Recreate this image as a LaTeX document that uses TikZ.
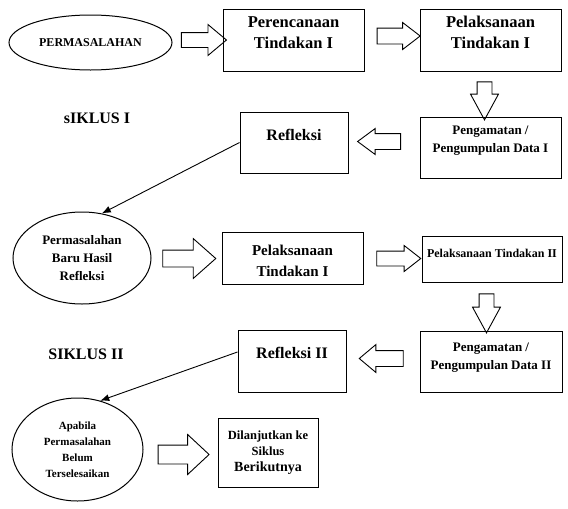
\documentclass[tikz,border=0pt]{standalone}
\usepackage{fontspec}
\setmainfont{Liberation Serif}
\usetikzlibrary{shapes.geometric,shapes.arrows,arrows.meta}
\tikzset{
  kotak/.style={draw, rectangle, line width=1pt, inner sep=0pt},
  elips/.style={draw, ellipse, line width=1pt, inner sep=0pt, align=center},
  teks/.style={align=center, inner sep=0pt},
  panah/.style n args={4}{draw, single arrow, line width=0.9pt, inner xsep=0pt, minimum width=0pt,
    minimum height=#1, single arrow head extend=#2, inner ysep=#3, single arrow tip angle=#4},
  garis/.style={line width=0.9pt, -{Latex[length=9pt,width=7pt]}}
}
\begin{document}
\begin{tikzpicture}[x=1pt, y=-1pt]
\useasboundingbox (0,0) rectangle (568,509);
\node[elips, minimum width=163pt, minimum height=55pt, font=\bfseries\fontsize{12}{14}\selectfont] (masalah1) at (90.5,42.5) {PERMASALAHAN};
\node[panah={45pt}{8pt}{7pt}{80}] (pa1) at (199.5,40) {};
\node[kotak, minimum width=141pt, minimum height=62pt] (rencana) at (293.5,40) {};
\node[teks, font=\bfseries\fontsize{16.5}{21}\selectfont] (rencanateks) at (293.5,32.5) {Perencanaan\\Tindakan I};
\node[panah={43pt}{5.5pt}{7.5pt}{75}] (pa2) at (393.5,36) {};
\node[kotak, minimum width=141pt, minimum height=62pt] (laksana1) at (490.5,40) {};
\node[teks, font=\bfseries\fontsize{16.5}{21}\selectfont] (laksana1teks) at (490.5,32.5) {Pelaksanaan\\Tindakan I};
\node[panah={38pt}{6.5pt}{7pt}{57}, rotate=-90] (pa3) at (484.5,94) {};
\node[kotak, minimum width=141pt, minimum height=61pt] (amat1) at (490.5,147.5) {};
\node[teks, font=\bfseries\fontsize{13}{18}\selectfont] (amat1teks) at (490.5,140.5) {Pengamatan /\\Pengumpulan Data I};
\node[panah={43pt}{5pt}{7.5pt}{73}, rotate=180] (pa4) at (384.5,141.5) {};
\node[kotak, minimum width=108pt, minimum height=61pt] (refleksi1) at (294,142.5) {};
\node[teks, font=\bfseries\fontsize{16}{21}\selectfont] (refleksi1teks) at (294,135) {Refleksi};
\node[teks, font=\bfseries\fontsize{16}{21}\selectfont] (siklus1) at (97,118) {sIKLUS I};
\node[elips, minimum width=138pt, minimum height=92pt, font=\bfseries\fontsize{13}{18}\selectfont] (masalah2) at (82,258) {Permasalahan\\Baru Hasil\\Refleksi};
\draw[garis] (refleksi1.west) -- (masalah2.66);
\node[panah={53pt}{11.5pt}{8pt}{83}] (pa5) at (184.5,258.5) {};
\node[kotak, minimum width=141pt, minimum height=52pt] (laksana2) at (292.5,258) {};
\node[teks, font=\bfseries\fontsize{15}{21}\selectfont] (laksana2teks) at (292.5,260.5) {Pelaksanaan\\Tindakan I};
\node[panah={44pt}{5.5pt}{7pt}{76}] (pa6) at (394,258.5) {};
\node[kotak, minimum width=140pt, minimum height=46pt] (laksana3) at (492,259) {};
\node[teks, font=\bfseries\fontsize{12}{14}\selectfont] (laksana3teks) at (492,253.5) {Pelaksanaan Tindakan II};
\node[panah={39pt}{6.5pt}{7pt}{57}, rotate=-90] (pa7) at (486.5,306.5) {};
\node[kotak, minimum width=142pt, minimum height=61pt] (amat2) at (491,361.5) {};
\node[teks, font=\bfseries\fontsize{13}{18}\selectfont] (amat2teks) at (491,358) {Pengamatan /\\Pengumpulan Data II};
\node[panah={44pt}{6pt}{7.5pt}{80}, rotate=180] (pa8) at (386,358.5) {};
\node[kotak, minimum width=108pt, minimum height=62pt] (refleksi2) at (292,361) {};
\node[teks, font=\bfseries\fontsize{16}{21}\selectfont] (refleksi2teks) at (292,352.5) {Refleksi II};
\node[teks, font=\bfseries\fontsize{16}{21}\selectfont] (siklus2) at (86,354) {SIKLUS II};
\node[elips, minimum width=131pt, minimum height=103pt, font=\bfseries\fontsize{11}{16}\selectfont] (masalah3) at (77.5,449.5) {Apabila\\Permasalahan\\Belum\\Terselesaikan};
\draw[garis] ([yshift=9pt]refleksi2.west) -- (masalah3.65);
\node[panah={51pt}{10.5pt}{9pt}{86}] (pa9) at (178.5,454.5) {};
\node[kotak, minimum width=100pt, minimum height=69pt] (lanjut) at (268,452.5) {};
\node[teks, font=\bfseries\fontsize{12.5}{16}\selectfont] (lanjutteks) at (268,453) {Dilanjutkan ke\\Siklus\\{\fontsize{14}{16}\selectfont Berikutnya}};
\end{tikzpicture}
\end{document}
